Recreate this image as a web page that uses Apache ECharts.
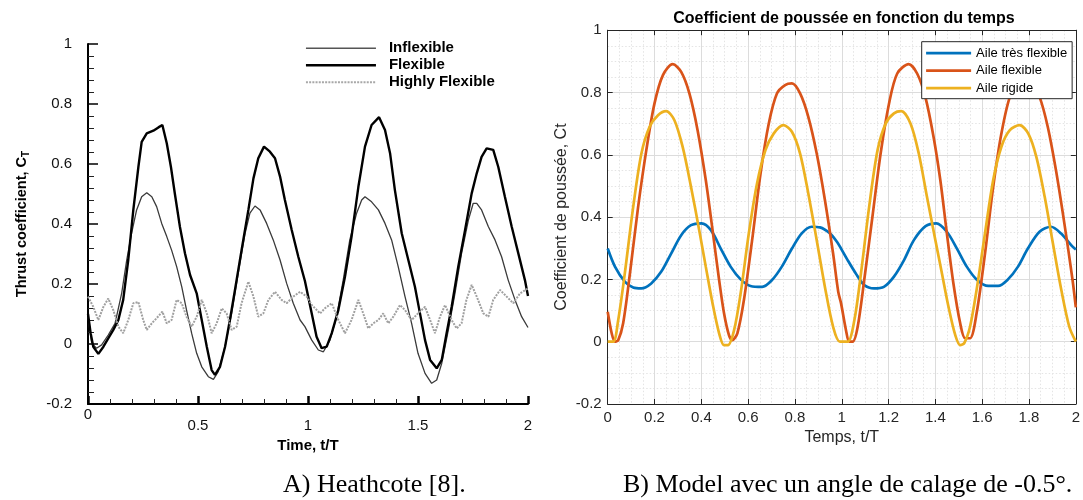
<!DOCTYPE html>
<html>
<head>
<meta charset="utf-8">
<script src="https://cdn.jsdelivr.net/npm/echarts@6/dist/echarts.min.js"></script>
<style>html,body{margin:0;padding:0;background:#fff}#c{width:1083px;height:500px}</style>
</head>
<body>
<div id="c"></div>
<script>
// ---------- Left chart (Heathcote) : [t/T, C_T] ----------
const leftInflexible = [[0,0.09],[0.017,0.002],[0.039,-0.014],[0.062,-0.003],[0.092,0.03],[0.123,0.069],[0.153,0.169],[0.176,0.28],[0.198,0.369],[0.221,0.447],[0.244,0.491],[0.267,0.504],[0.29,0.491],[0.312,0.458],[0.335,0.402],[0.358,0.358],[0.38,0.313],[0.403,0.258],[0.426,0.191],[0.448,0.113],[0.471,0.036],[0.494,-0.031],[0.517,-0.076],[0.547,-0.109],[0.57,-0.118],[0.592,-0.092],[0.623,-0.009],[0.653,0.102],[0.683,0.236],[0.714,0.369],[0.736,0.436],[0.759,0.46],[0.782,0.447],[0.812,0.402],[0.842,0.347],[0.873,0.28],[0.903,0.202],[0.933,0.136],[0.964,0.08],[0.986,0.058],[1.017,0.013],[1.047,-0.02],[1.07,-0.026],[1.1,0.013],[1.13,0.091],[1.16,0.213],[1.19,0.347],[1.221,0.436],[1.244,0.48],[1.259,0.491],[1.289,0.474],[1.32,0.447],[1.35,0.402],[1.38,0.347],[1.41,0.258],[1.441,0.158],[1.471,0.069],[1.5,-0.031],[1.532,-0.098],[1.562,-0.131],[1.585,-0.12],[1.608,-0.064],[1.638,0.047],[1.668,0.169],[1.698,0.302],[1.729,0.413],[1.751,0.469],[1.767,0.469],[1.789,0.447],[1.82,0.391],[1.85,0.347],[1.88,0.291],[1.91,0.213],[1.941,0.147],[1.971,0.091],[2,0.055]];
const leftFlexible = [[0,0.10],[0.012,0.036],[0.024,-0.009],[0.047,-0.033],[0.07,-0.009],[0.092,0.019],[0.115,0.047],[0.138,0.08],[0.16,0.147],[0.183,0.28],[0.206,0.447],[0.229,0.59],[0.244,0.674],[0.267,0.702],[0.297,0.711],[0.32,0.722],[0.338,0.73],[0.358,0.669],[0.377,0.59],[0.395,0.50],[0.418,0.39],[0.441,0.302],[0.464,0.23],[0.494,0.169],[0.517,0.08],[0.54,-0.009],[0.562,-0.087],[0.577,-0.103],[0.6,-0.076],[0.623,-0.009],[0.645,0.08],[0.668,0.18],[0.698,0.313],[0.729,0.447],[0.752,0.552],[0.774,0.619],[0.8,0.658],[0.827,0.641],[0.85,0.619],[0.873,0.558],[0.895,0.48],[0.926,0.38],[0.956,0.291],[0.986,0.21],[1.017,0.102],[1.039,0.024],[1.062,-0.014],[1.085,-0.009],[1.108,0.036],[1.138,0.113],[1.168,0.224],[1.198,0.358],[1.229,0.524],[1.259,0.658],[1.289,0.73],[1.323,0.756],[1.35,0.713],[1.373,0.636],[1.395,0.513],[1.426,0.369],[1.456,0.28],[1.486,0.191],[1.509,0.102],[1.532,0.013],[1.555,-0.053],[1.585,-0.081],[1.608,-0.053],[1.63,0.036],[1.653,0.124],[1.683,0.258],[1.714,0.38],[1.744,0.502],[1.767,0.569],[1.789,0.624],[1.812,0.652],[1.842,0.647],[1.865,0.59],[1.895,0.491],[1.926,0.391],[1.956,0.302],[1.986,0.213],[2,0.16]];
const leftHighlyFlexible = [[0,0.158],[0.024,0.124],[0.047,0.08],[0.07,0.124],[0.092,0.152],[0.115,0.113],[0.138,0.058],[0.16,0.036],[0.183,0.08],[0.206,0.136],[0.229,0.14],[0.251,0.08],[0.267,0.047],[0.29,0.069],[0.312,0.086],[0.338,0.108],[0.358,0.069],[0.38,0.08],[0.403,0.147],[0.426,0.136],[0.448,0.091],[0.471,0.058],[0.494,0.091],[0.517,0.147],[0.54,0.102],[0.562,0.036],[0.585,0.069],[0.608,0.119],[0.63,0.102],[0.653,0.047],[0.676,0.058],[0.698,0.136],[0.729,0.208],[0.752,0.158],[0.774,0.091],[0.797,0.102],[0.82,0.147],[0.85,0.174],[0.88,0.147],[0.903,0.136],[0.933,0.158],[0.964,0.174],[0.994,0.158],[1.017,0.13],[1.055,0.102],[1.077,0.119],[1.108,0.136],[1.138,0.08],[1.168,0.036],[1.198,0.08],[1.229,0.147],[1.251,0.102],[1.274,0.052],[1.297,0.069],[1.32,0.08],[1.342,0.102],[1.365,0.069],[1.388,0.091],[1.418,0.13],[1.441,0.113],[1.471,0.08],[1.5,0.102],[1.532,0.124],[1.555,0.08],[1.577,0.036],[1.6,0.091],[1.623,0.13],[1.653,0.08],[1.676,0.052],[1.698,0.069],[1.72,0.147],[1.744,0.197],[1.767,0.158],[1.797,0.102],[1.82,0.091],[1.842,0.147],[1.873,0.18],[1.903,0.158],[1.933,0.136],[1.964,0.169],[2,0.185]];

// ---------- Right chart (Model) : [t/T, Ct] ----------
const rightTresFlexible = [[0,0.299],[0.031,0.241],[0.073,0.193],[0.109,0.174],[0.144,0.171],[0.186,0.187],[0.229,0.225],[0.271,0.283],[0.314,0.342],[0.356,0.374],[0.401,0.38],[0.441,0.358],[0.483,0.299],[0.525,0.241],[0.568,0.20],[0.61,0.179],[0.66,0.176],[0.702,0.198],[0.744,0.241],[0.787,0.299],[0.829,0.348],[0.871,0.369],[0.907,0.367],[0.949,0.348],[0.98,0.32],[0.997,0.299],[1.025,0.262],[1.06,0.219],[1.096,0.182],[1.138,0.171],[1.18,0.176],[1.223,0.209],[1.266,0.262],[1.308,0.326],[1.358,0.371],[1.404,0.38],[1.449,0.353],[1.492,0.299],[1.534,0.241],[1.576,0.20],[1.626,0.179],[1.668,0.179],[1.71,0.20],[1.753,0.241],[1.795,0.299],[1.845,0.353],[1.894,0.369],[1.936,0.348],[1.986,0.305],[2,0.296]];
const rightFlexible = [[0,0.096],[0.017,0.027],[0.031,0],[0.045,0.005],[0.066,0.059],[0.095,0.219],[0.13,0.433],[0.165,0.615],[0.2,0.765],[0.236,0.856],[0.278,0.891],[0.314,0.866],[0.349,0.797],[0.384,0.679],[0.419,0.519],[0.448,0.358],[0.476,0.198],[0.497,0.091],[0.518,0.021],[0.532,0.005],[0.554,0.027],[0.582,0.134],[0.617,0.326],[0.653,0.54],[0.688,0.70],[0.723,0.797],[0.758,0.824],[0.787,0.829],[0.822,0.797],[0.857,0.722],[0.893,0.604],[0.928,0.455],[0.963,0.283],[0.985,0.16],[0.997,0.123],[1.018,0.037],[1.032,0],[1.047,0],[1.068,0.048],[1.096,0.198],[1.131,0.401],[1.166,0.604],[1.202,0.765],[1.237,0.861],[1.286,0.891],[1.322,0.861],[1.357,0.786],[1.392,0.658],[1.421,0.519],[1.449,0.348],[1.477,0.187],[1.506,0.059],[1.527,0.011],[1.548,0.011],[1.576,0.091],[1.612,0.283],[1.647,0.497],[1.682,0.668],[1.72,0.79],[1.755,0.822],[1.79,0.826],[1.82,0.81],[1.845,0.786],[1.88,0.69],[1.915,0.551],[1.951,0.38],[1.986,0.198],[2,0.11]];
const rightRigide = [[0,0],[0.024,0],[0.045,0.07],[0.073,0.219],[0.109,0.433],[0.144,0.604],[0.179,0.69],[0.215,0.727],[0.25,0.74],[0.285,0.711],[0.32,0.626],[0.356,0.497],[0.391,0.358],[0.419,0.241],[0.448,0.123],[0.476,0.027],[0.497,-0.011],[0.514,-0.011],[0.54,0.037],[0.568,0.155],[0.603,0.348],[0.638,0.508],[0.674,0.615],[0.709,0.668],[0.751,0.695],[0.787,0.674],[0.822,0.604],[0.857,0.476],[0.893,0.326],[0.928,0.176],[0.963,0.048],[0.992,0],[1.025,0],[1.054,0.07],[1.082,0.219],[1.117,0.433],[1.153,0.615],[1.188,0.701],[1.223,0.733],[1.254,0.74],[1.294,0.70],[1.329,0.604],[1.364,0.465],[1.4,0.326],[1.428,0.219],[1.456,0.112],[1.485,0.021],[1.506,-0.011],[1.523,-0.005],[1.548,0.048],[1.576,0.166],[1.612,0.348],[1.647,0.519],[1.682,0.626],[1.718,0.679],[1.76,0.695],[1.797,0.668],[1.831,0.594],[1.867,0.465],[1.902,0.316],[1.938,0.166],[1.972,0.048],[2,0]];

const leftNames = ['Inflexible','Flexible','Highly Flexible'];
const rightNames = ['Aile très flexible','Aile flexible','Aile rigide'];
const rightTitle = 'Coefficient de poussée en fonction du temps';
const captionA = 'A) Heathcote [8].';
const captionB = 'B) Model avec un angle de calage de -0.5°.';

const SANS = 'Liberation Sans, Arial, Helvetica, sans-serif';
const SERIF = 'Liberation Serif, Times New Roman, serif';
const MGRAY = '#262626';
const NOSYM = {color: 'rgba(0,0,0,0)', borderWidth: 0, borderColor: 'rgba(0,0,0,0)', opacity: 0};

const chart = echarts.init(document.getElementById('c'), null, {renderer:'canvas'});
chart.setOption({
  animation: false,
  backgroundColor: '#fff',
  textStyle: {fontFamily: SANS},
  grid: [
    {left: 88, top: 44, width: 440, height: 360},
    {left: 607.7, top: 30.2, width: 474, height: 373.8}
  ],
  legend: [
    {
      data: [
        {name: leftNames[0], lineStyle: {width: 1.6, color: '#555'}},
        {name: leftNames[1], lineStyle: {width: 2.5, color: '#000'}},
        {name: leftNames[2], lineStyle: {width: 2, color: '#a8a8a8', type: [2, 1.2]}}
      ],
      orient: 'vertical', left: 304.7, top: 40.8,
      itemWidth: 70, itemHeight: 15, itemGap: 2, padding: 0,
      selectedMode: false, itemStyle: NOSYM,
      textStyle: {fontFamily: SANS, fontSize: 15, fontWeight: 'bold', color: '#000', lineHeight: 15, padding: [0,0,0,8]}
    },
    {
      data: rightNames, orient: 'vertical', left: 921.7, top: 41.7,
      itemWidth: 45, itemHeight: 13, itemGap: 4.5, padding: [5, 5, 4, 3],
      selectedMode: false, itemStyle: NOSYM, lineStyle: {width: 2.8},
      backgroundColor: '#fff', borderColor: MGRAY, borderWidth: 1,
      textStyle: {fontFamily: SANS, fontSize: 13, color: '#000', lineHeight: 13}
    }
  ],
  xAxis: [
    {
      gridIndex: 0, type: 'value', min: 0, max: 2, interval: 0.5,
      name: 'Time, t/T', nameLocation: 'middle', nameGap: 34,
      nameTextStyle: {fontFamily: SANS, fontSize: 15, fontWeight: 'bold', color: '#000'},
      axisLine: {show: true, onZero: false, lineStyle: {color: '#000', width: 2}},
      axisTick: {show: true, inside: true, length: 8, lineStyle: {color: '#000', width: 2.5}},
      minorTick: {show: true, splitNumber: 5, length: 5, lineStyle: {color: '#222', width: 1}},
      splitLine: {show: false},
      axisLabel: {
        margin: 3, fontSize: 15, color: '#111', fontFamily: SANS,
        formatter: function (v) { return v === 0 ? '{z|0}' : '{n|' + v + '}'; },
        rich: {z: {fontSize: 15, lineHeight: 15, color: '#111'}, n: {fontSize: 15, lineHeight: 38, color: '#111'}}
      }
    },
    {
      gridIndex: 1, type: 'value', min: 0, max: 2, interval: 0.2,
      name: 'Temps, t/T', nameLocation: 'middle', nameGap: 26,
      nameTextStyle: {fontFamily: SANS, fontSize: 16, color: MGRAY},
      axisLine: {show: true, onZero: false, lineStyle: {color: MGRAY, width: 1}},
      axisTick: {show: true, inside: true, length: 5, lineStyle: {color: MGRAY, width: 1}},
      minorTick: {show: false, splitNumber: 4},
      splitLine: {show: true, lineStyle: {color: '#dcdcdc', width: 1}},
      minorSplitLine: {show: true, lineStyle: {color: '#e4e4e4', width: 1, type: [1.5, 2]}},
      axisLabel: {margin: 6, fontSize: 15, color: MGRAY, fontFamily: SANS,
        formatter: function (v) { return String(Math.round(v * 10) / 10); }}
    },
    {
      gridIndex: 1, type: 'value', min: 0, max: 2, interval: 0.2, position: 'top',
      axisLine: {show: true, onZero: false, lineStyle: {color: MGRAY, width: 1}},
      axisTick: {show: true, inside: true, length: 5, lineStyle: {color: MGRAY, width: 1}},
      axisLabel: {show: false}, splitLine: {show: false}
    }
  ],
  yAxis: [
    {
      gridIndex: 0, type: 'value', min: -0.2, max: 1, interval: 0.2,
      name: '{a|Thrust coefficient, C}{b|T}', nameLocation: 'middle', nameGap: 57,
      nameTextStyle: {
        rich: {
          a: {fontFamily: SANS, fontSize: 14.5, fontWeight: 'bold', color: '#000', lineHeight: 18},
          b: {fontFamily: SANS, fontSize: 10, fontWeight: 'bold', color: '#000', lineHeight: 10, verticalAlign: 'bottom'}
        }
      },
      axisLine: {show: true, onZero: false, lineStyle: {color: '#000', width: 2}},
      axisTick: {show: true, inside: true, length: 10, lineStyle: {color: '#000', width: 1.5}},
      minorTick: {show: true, splitNumber: 5, length: 6, lineStyle: {color: '#222', width: 1}},
      splitLine: {show: false},
      axisLabel: {margin: 16, fontSize: 15, color: '#111', fontFamily: SANS,
        formatter: function (v) { return String(Math.round(v * 10) / 10); }}
    },
    {
      gridIndex: 1, type: 'value', min: -0.2, max: 1, interval: 0.2,
      name: 'Coefficient de poussée, Ct', nameLocation: 'middle', nameGap: 38,
      nameTextStyle: {fontFamily: SANS, fontSize: 16, color: MGRAY},
      axisLine: {show: true, onZero: false, lineStyle: {color: MGRAY, width: 1}},
      axisTick: {show: true, inside: true, length: 5, lineStyle: {color: MGRAY, width: 1}},
      minorTick: {show: false, splitNumber: 4},
      splitLine: {show: true, lineStyle: {color: '#dcdcdc', width: 1}},
      minorSplitLine: {show: true, lineStyle: {color: '#e4e4e4', width: 1, type: [1.5, 2]}},
      axisLabel: {margin: 6, fontSize: 15, color: MGRAY, fontFamily: SANS,
        formatter: function (v) { return String(Math.round(v * 10) / 10); }}
    },
    {
      gridIndex: 1, type: 'value', min: -0.2, max: 1, interval: 0.2, position: 'right',
      axisLine: {show: true, onZero: false, lineStyle: {color: MGRAY, width: 1}},
      axisTick: {show: true, inside: true, length: 5, lineStyle: {color: MGRAY, width: 1}},
      axisLabel: {show: false}, splitLine: {show: false}
    }
  ],
  graphic: [
    {type: 'text', x: 843.9, y: 18.3, silent: true,
      style: {text: rightTitle, font: 'bold 16px ' + SANS, fill: '#000', textAlign: 'center', textVerticalAlign: 'middle'}},
    {type: 'text', x: 283, y: 485, silent: true,
      style: {text: captionA, font: '26px ' + SERIF, fill: '#000', textAlign: 'left', textVerticalAlign: 'middle'}},
    {type: 'text', x: 623, y: 485, silent: true,
      style: {text: captionB, font: '26px ' + SERIF, fill: '#000', textAlign: 'left', textVerticalAlign: 'middle'}}
  ],
  series: [
    {name: leftNames[0], type: 'line', xAxisIndex: 0, yAxisIndex: 0, data: leftInflexible,
      symbol: 'none', lineStyle: {color: '#3a3a3a', width: 1.3}, itemStyle: {color: '#3a3a3a'}},
    {name: leftNames[1], type: 'line', xAxisIndex: 0, yAxisIndex: 0, data: leftFlexible,
      symbol: 'none', lineStyle: {color: '#000', width: 2.4}, itemStyle: {color: '#000'}},
    {name: leftNames[2], type: 'line', xAxisIndex: 0, yAxisIndex: 0, data: leftHighlyFlexible,
      symbol: 'none', lineStyle: {color: '#a0a0a0', width: 2, type: [2, 1.2]}, itemStyle: {color: '#a0a0a0'}},
    {name: rightNames[0], type: 'line', xAxisIndex: 1, yAxisIndex: 1, data: rightTresFlexible,
      symbol: 'none', smooth: 0.3, lineStyle: {color: '#0072BD', width: 2.7}, itemStyle: {color: '#0072BD'}},
    {name: rightNames[1], type: 'line', xAxisIndex: 1, yAxisIndex: 1, data: rightFlexible,
      symbol: 'none', smooth: 0.3, lineStyle: {color: '#D95319', width: 2.7}, itemStyle: {color: '#D95319'}},
    {name: rightNames[2], type: 'line', xAxisIndex: 1, yAxisIndex: 1, data: rightRigide,
      symbol: 'none', smooth: 0.3, lineStyle: {color: '#EDB120', width: 2.7}, itemStyle: {color: '#EDB120'}}
  ]
});
</script>
</body>
</html>
